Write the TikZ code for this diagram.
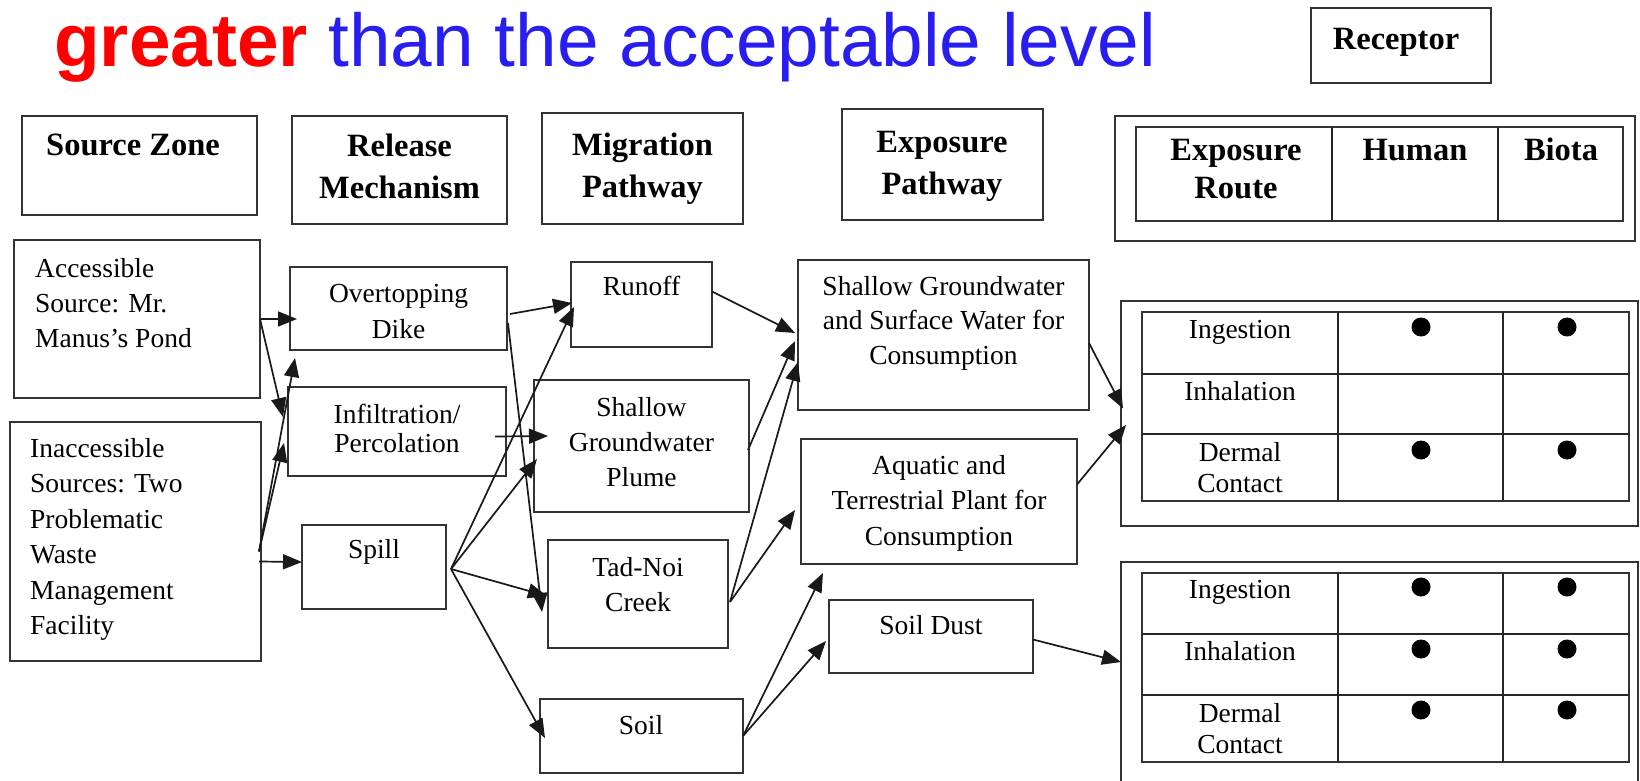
\documentclass[tikz,border=0pt]{standalone}
\usepackage{fontspec}
\setmainfont{Liberation Serif}
\newfontfamily\titlefont{Liberation Sans}
\usetikzlibrary{arrows.meta,calc}
\definecolor{tred}{RGB}{255,0,0}
\definecolor{tblue}{RGB}{40,30,240}
\newcommand{\tcen}[1]{\begin{tabular}[t]{@{}c@{}}#1\end{tabular}}
\newcommand{\tlft}[1]{\begin{tabular}[t]{@{}l@{}}#1\end{tabular}}
\newcommand{\bx}[5]{\node[box, minimum width={(#4-#2)*1pt}, minimum height={(#5-#3)*1pt}] (#1) at (#2,#3) {};}
\tikzset{
  box/.style={draw=black!80, line width=2pt, inner sep=0pt, outer sep=0pt, anchor=north west},
  body/.style={font=\fontsize{27.5}{#1}\selectfont, inner sep=0pt, anchor=base},
  body/.default=35,
  bodyl/.style={font=\fontsize{27.5}{#1}\selectfont, inner sep=0pt, anchor=base west},
  bodyl/.default=35,
  head/.style={font=\bfseries\fontsize{32.5}{42}\selectfont, inner sep=0pt, anchor=base},
  arr/.style={-{Triangle[length=19pt,width=15pt]}, line width=1.7pt, draw=black!90},
  tline/.style={line width=1.8pt, draw=black!85},
  hline/.style={line width=1.2pt, draw=black!85},
}
\begin{document}
\begin{tikzpicture}[x=1pt, y=-1pt]
\useasboundingbox (0,0) rectangle (1640,781);
\fill[white] (0,0) rectangle (1640,781);
\clip (0,0) rectangle (1640,781);

% title
\node[anchor=base west, inner sep=0pt, font=\titlefont\fontsize{74.8}{80}\selectfont] (title) at (54,67)
  {\textcolor{tred}{\bfseries greater} \textcolor{tblue}{than the acceptable level}};

% header boxes
\bx{hsrc}{22}{116}{257}{215}
\bx{hrel}{292}{116}{507}{224}
\bx{hmig}{542}{113}{743}{224}
\bx{hexp}{842}{109}{1043}{220}
\bx{hrcp}{1311}{8}{1491}{83}
\bx{hrec}{1115}{116}{1635}{241}
\bx{htab}{1136}{127}{1623}{221}
\draw[hline] (1332,127) -- (1332,221);
\draw[hline] (1498,127) -- (1498,221);

\node[head] (thsrc) at (133,155) {Source Zone};
\node[head] (threl) at (399.5,157) {\tcen{Release\\Mechanism}};
\node[head] (thmig) at (642.5,155) {\tcen{Migration\\Pathway}};
\node[head] (thexp) at (942,152) {\tcen{Exposure\\Pathway}};
\node[head] (thrcp) at (1396,50) {Receptor};
\node[head, font=\bfseries\fontsize{32.5}{38}\selectfont] (throute) at (1236,160) {\tcen{Exposure\\Route}};
\node[head] (thhum) at (1415,160) {Human};
\node[head] (thbio) at (1561,160) {Biota};

% source zone
\bx{acc}{14}{240}{260}{398}
\bx{inacc}{10}{422}{261}{661}
\node[bodyl] (tacc) at (35,277) {\tlft{Accessible\\Source: Mr.\\Manus’s Pond}};
\node[bodyl=35.5] (tinacc) at (30,457) {\tlft{Inaccessible\\Sources: Two\\Problematic\\Waste\\Management\\Facility}};

% release mechanism
\bx{ovt}{290}{267}{507}{350}
\bx{inf}{288}{387}{506}{476}
\bx{spill}{302}{525}{446}{609}
\node[body=36] (tovt) at (398.5,302) {\tcen{Overtopping\\Dike}};
\node[body=29] (tinf) at (397,423) {\tcen{Infiltration/\\Percolation}};
\node[body] (tspill) at (374,558) {Spill};

% migration pathway
\bx{runoff}{571}{262}{712}{347}
\bx{plume}{534}{380}{749}{512}
\bx{creek}{548}{540}{728}{648}
\bx{soil}{540}{699}{743}{773}
\node[body] (trunoff) at (641.5,295) {Runoff};
\node[body] (tplume) at (641.5,416) {\tcen{Shallow\\Groundwater\\Plume}};
\node[body] (tcreek) at (638,576) {\tcen{Tad-Noi\\Creek}};
\node[body] (tsoil) at (641,734) {Soil};

% exposure pathway
\bx{sgw}{798}{260}{1089}{410}
\bx{aqu}{801}{439}{1077}{564}
\bx{dust}{829}{600}{1033}{673}
\node[body=34.5] (tsgw) at (943.5,295) {\tcen{Shallow Groundwater\\and Surface Water for\\Consumption}};
\node[body=35.5] (taqu) at (939,474) {\tcen{Aquatic and\\Terrestrial Plant for\\Consumption}};
\node[body] (tdust) at (931,634) {Soil Dust};

% receptor tables
\bx{rec1}{1121}{301}{1638}{526}
\bx{tab1}{1142}{312}{1629}{501}
\draw[tline] (1142,374) -- (1629,374);
\draw[tline] (1142,434) -- (1629,434);
\draw[tline] (1338,312) -- (1338,501);
\draw[tline] (1503,312) -- (1503,501);
\node[body] (t1ing) at (1240,338) {Ingestion};
\node[body] (t1inh) at (1240,400) {Inhalation};
\node[body=31] (t1der) at (1240,461) {\tcen{Dermal\\Contact}};
\fill (1421,327) circle (9.5);
\fill (1567,327) circle (9.5);
\fill (1421,450) circle (9.5);
\fill (1567,450) circle (9.5);

\bx{rec2}{1121}{562}{1638}{800}
\bx{tab2}{1142}{573}{1629}{762}
\draw[tline] (1142,634) -- (1629,634);
\draw[tline] (1142,695) -- (1629,695);
\draw[tline] (1338,573) -- (1338,762);
\draw[tline] (1503,573) -- (1503,762);
\node[body] (t2ing) at (1240,598) {Ingestion};
\node[body] (t2inh) at (1240,660) {Inhalation};
\node[body=31] (t2der) at (1240,722) {\tcen{Dermal\\Contact}};
\foreach \yy in {587,649,710} {
  \fill (1421,\yy) circle (9.5);
  \fill (1567,\yy) circle (9.5);
}

% connectors: source -> release
\draw[arr] (acc.east) -- ($(acc.east -| ovt.west)+(7,0)$);
\draw[arr] (acc.east) -- ([shift={(-5,-14.5)}]inf.west);
\draw[arr] ([shift={(-2,10)}]inacc.east) -- ([shift={(5,8)}]ovt.south west);
\draw[arr] ([shift={(-2,10)}]inacc.east) -- ([shift={(-4,11.5)}]inf.west);
\draw[arr] ([shift={(-2,20)}]inacc.east) -- ([shift={(0,-5)}]spill.west);

% release -> migration
\draw[arr] ([shift={(3,5.5)}]ovt.east) -- ([shift={(1,-1.5)}]runoff.west);
\draw[arr] ([shift={(1,14.5)}]ovt.east) -- ([shift={(-6,18)}]creek.west);
\draw[arr] ([shift={(-11,5)}]inf.east) -- ([shift={(14,-10)}]plume.west);
\draw[arr] ([shift={(5,2)}]spill.east) -- ([shift={(3,2.5)}]runoff.west);
\draw[arr] ([shift={(5,2)}]spill.east) -- ([shift={(3,13)}]plume.west);
\draw[arr] ([shift={(5,2)}]spill.east) -- ([shift={(-1,2)}]creek.west);
\draw[arr] ([shift={(5,2)}]spill.east) -- ([shift={(5,2)}]soil.west);

% migration -> exposure
\draw[arr] ([shift={(0,-13)}]runoff.east) -- ([shift={(-3,-2)}]sgw.west);
\draw[arr] ([shift={(-1,4)}]plume.east) -- ([shift={(-3,6)}]sgw.west);
\draw[arr] ([shift={(2,8)}]creek.east) -- ([shift={(0,27)}]sgw.west);
\draw[arr] ([shift={(2,8)}]creek.east) -- ([shift={(-6,8.5)}]aqu.west);
\draw[arr] (soil.east) -- ([shift={(22,9)}]aqu.south west);
\draw[arr] (soil.east) -- ([shift={(-3,4.5)}]dust.west);

% exposure -> receptor
\draw[arr] ([shift={(0,8)}]sgw.east) -- ([shift={(2,-5)}]rec1.west);
\draw[arr] ([shift={(0,-17)}]aqu.east) -- ([shift={(5,11.5)}]rec1.west);
\draw[arr] ([shift={(0,3)}]dust.east) -- ([shift={(0,-19)}]rec2.west);
\end{tikzpicture}
\end{document}
